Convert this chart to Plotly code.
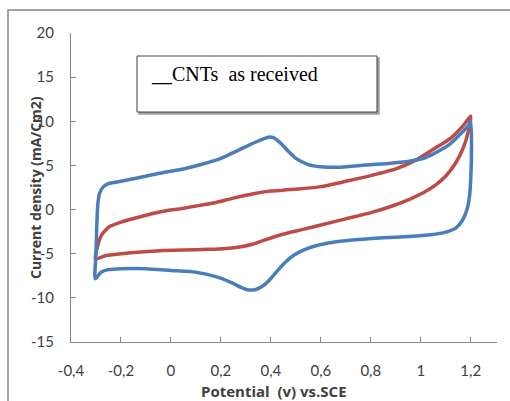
import plotly.graph_objects as go

# Blue CV loop
blue_x = [-0.303, -0.300, -0.297, -0.292, -0.285, -0.27, -0.25, -0.20, -0.13, -0.03, 0.05, 0.12, 0.20,
          0.26, 0.32, 0.36, 0.39, 0.41, 0.44, 0.47, 0.50, 0.55, 0.60, 0.68, 0.78, 0.88, 0.96, 1.02,
          1.07, 1.12, 1.16, 1.19, 1.200, 1.203, 1.200, 1.195, 1.185, 1.165, 1.14, 1.10, 1.04, 0.95,
          0.85, 0.75, 0.65, 0.58, 0.53, 0.49, 0.46, 0.43, 0.40, 0.37, 0.34, 0.31, 0.28, 0.24, 0.18,
          0.10, 0.0, -0.1, -0.2, -0.25, -0.28, -0.303]
blue_y = [-7.85, -5.0, -2.0, 0.8, 1.9, 2.6, 2.95, 3.2, 3.6, 4.2, 4.6, 5.1, 5.8,
          6.6, 7.4, 7.9, 8.2, 8.15, 7.5, 6.6, 5.8, 5.1, 4.85, 4.8, 5.05, 5.25, 5.5, 5.9,
          6.6, 7.5, 8.6, 9.5, 10.0, 7.0, 3.5, 1.5, 0.0, -1.3, -2.1, -2.55, -2.85, -3.05,
          -3.2, -3.4, -3.7, -4.1, -4.6, -5.2, -5.9, -6.8, -7.8, -8.6, -9.05, -9.1, -8.8, -8.25, -7.6,
          -7.1, -6.9, -6.7, -6.7, -6.8, -7.1, -7.85]

# Red CV loop
red_x = [-0.303, -0.26, -0.20, -0.12, -0.03, 0.05, 0.15, 0.22, 0.28, 0.33, 0.38, 0.44, 0.52, 0.60,
         0.70, 0.80, 0.88, 0.95, 1.01, 1.06, 1.10, 1.14, 1.17, 1.19, 1.200,
         1.17, 1.12, 1.06, 0.98, 0.90, 0.80, 0.70, 0.60, 0.52, 0.45, 0.40, 0.33, 0.25, 0.17, 0.10,
         0.04, -0.03, -0.13, -0.20, -0.25, -0.28, -0.295, -0.303]
red_y = [-5.6, -5.2, -5.0, -4.8, -4.65, -4.58, -4.5, -4.4, -4.2, -3.9, -3.4, -2.85, -2.3, -1.75,
         -1.05, -0.35, 0.35, 1.1, 1.9, 2.8, 3.8, 5.3, 7.0, 8.8, 10.6,
         9.5, 8.1, 7.0, 5.6, 4.6, 3.85, 3.2, 2.6, 2.35, 2.2, 2.1, 1.8, 1.3, 0.75, 0.4,
         0.1, -0.2, -0.87, -1.43, -2.0, -3.0, -4.3, -5.6]

x_ticks = [-0.4, -0.2, 0, 0.2, 0.4, 0.6, 0.8, 1.0, 1.2]
x_tick_labels = ["-0,4", "-0,2", "0", "0,2", "0,4", "0,6", "0,8", "1", "1,2"]
y_ticks = [-15, -10, -5, 0, 5, 10, 15, 20]
y_tick_labels = ["-15", "-10", "-5", "0", "5", "10", "15", "20"]

AX = "#868686"
TICKFONT = dict(family="Lato, Liberation Sans, sans-serif", size=15, color="#404040")

fig = go.Figure()
fig.add_trace(go.Scatter(x=red_x, y=red_y, mode="lines",
                         line=dict(color="#BE4B48", width=3.5, shape="spline", smoothing=0.6),
                         showlegend=False, hoverinfo="skip"))
fig.add_trace(go.Scatter(x=blue_x, y=blue_y, mode="lines",
                         line=dict(color="#4A7EBB", width=3.5, shape="spline", smoothing=0.6),
                         showlegend=False, hoverinfo="skip"))

fig.update_layout(
    width=510, height=401,
    margin=dict(l=71, r=13, t=33, b=59),
    paper_bgcolor="white", plot_bgcolor="white",
    showlegend=False,
    xaxis=dict(range=[-0.4, 1.305], tickvals=x_ticks, ticktext=x_tick_labels,
               showgrid=False, zeroline=False, showline=True, linecolor=AX, linewidth=1,
               ticks="inside", ticklen=5, tickcolor=AX, tickfont=TICKFONT,
               ticklabelstandoff=15),
    yaxis=dict(range=[-15, 20], tickvals=y_ticks, ticktext=y_tick_labels,
               showgrid=False, zeroline=False, showline=True, linecolor=AX, linewidth=1,
               ticks="inside", ticklen=5, tickcolor=AX, tickfont=TICKFONT,
               ticklabelstandoff=13),
)

def px_x(p):
    return (p - 71) / 426.0

def px_y(p):
    return (342 - p) / 309.0

shapes = [
    # outer chart frame
    dict(type="rect", xref="paper", yref="paper", x0=px_x(8), x1=px_x(530), y0=px_y(430), y1=px_y(10),
         line=dict(color=AX, width=1.5), fillcolor="rgba(0,0,0,0)", layer="above"),
    # text box shadow
    dict(type="rect", xref="paper", yref="paper", x0=px_x(139), x1=px_x(379), y0=px_y(114), y1=px_y(58),
         line=dict(color="#A0A0A0", width=1.5), fillcolor="#A0A0A0", layer="above"),
    # text box
    dict(type="rect", xref="paper", yref="paper", x0=px_x(137), x1=px_x(377), y0=px_y(112), y1=px_y(56),
         line=dict(color="#404040", width=1), fillcolor="white", layer="above"),
]
fig.update_layout(shapes=shapes)

fig.add_annotation(text="__CNTs\u00a0\u00a0as received", xref="paper", yref="paper",
                   x=px_x(149), y=px_y(74), xanchor="left", yanchor="middle", showarrow=False,
                   font=dict(family="Liberation Serif, Times New Roman, serif", size=20, color="black"))
fig.add_annotation(text="<b>Current density (mA/Cm2)</b>", xref="paper", yref="paper",
                   x=px_x(36), y=px_y(188), xanchor="center", yanchor="middle", textangle=-90,
                   showarrow=False,
                   font=dict(family="Open Sans, Liberation Sans, sans-serif", size=14, color="#404040"))
fig.add_annotation(text="<b>Potential\u00a0\u00a0(v) vs.SCE</b>", xref="paper", yref="paper",
                   x=px_x(274), y=px_y(390.5), xanchor="center", yanchor="middle",
                   showarrow=False, borderpad=0,
                   font=dict(family="Open Sans, Liberation Sans, sans-serif", size=15, color="#404040"))

fig.write_html("out.html")
